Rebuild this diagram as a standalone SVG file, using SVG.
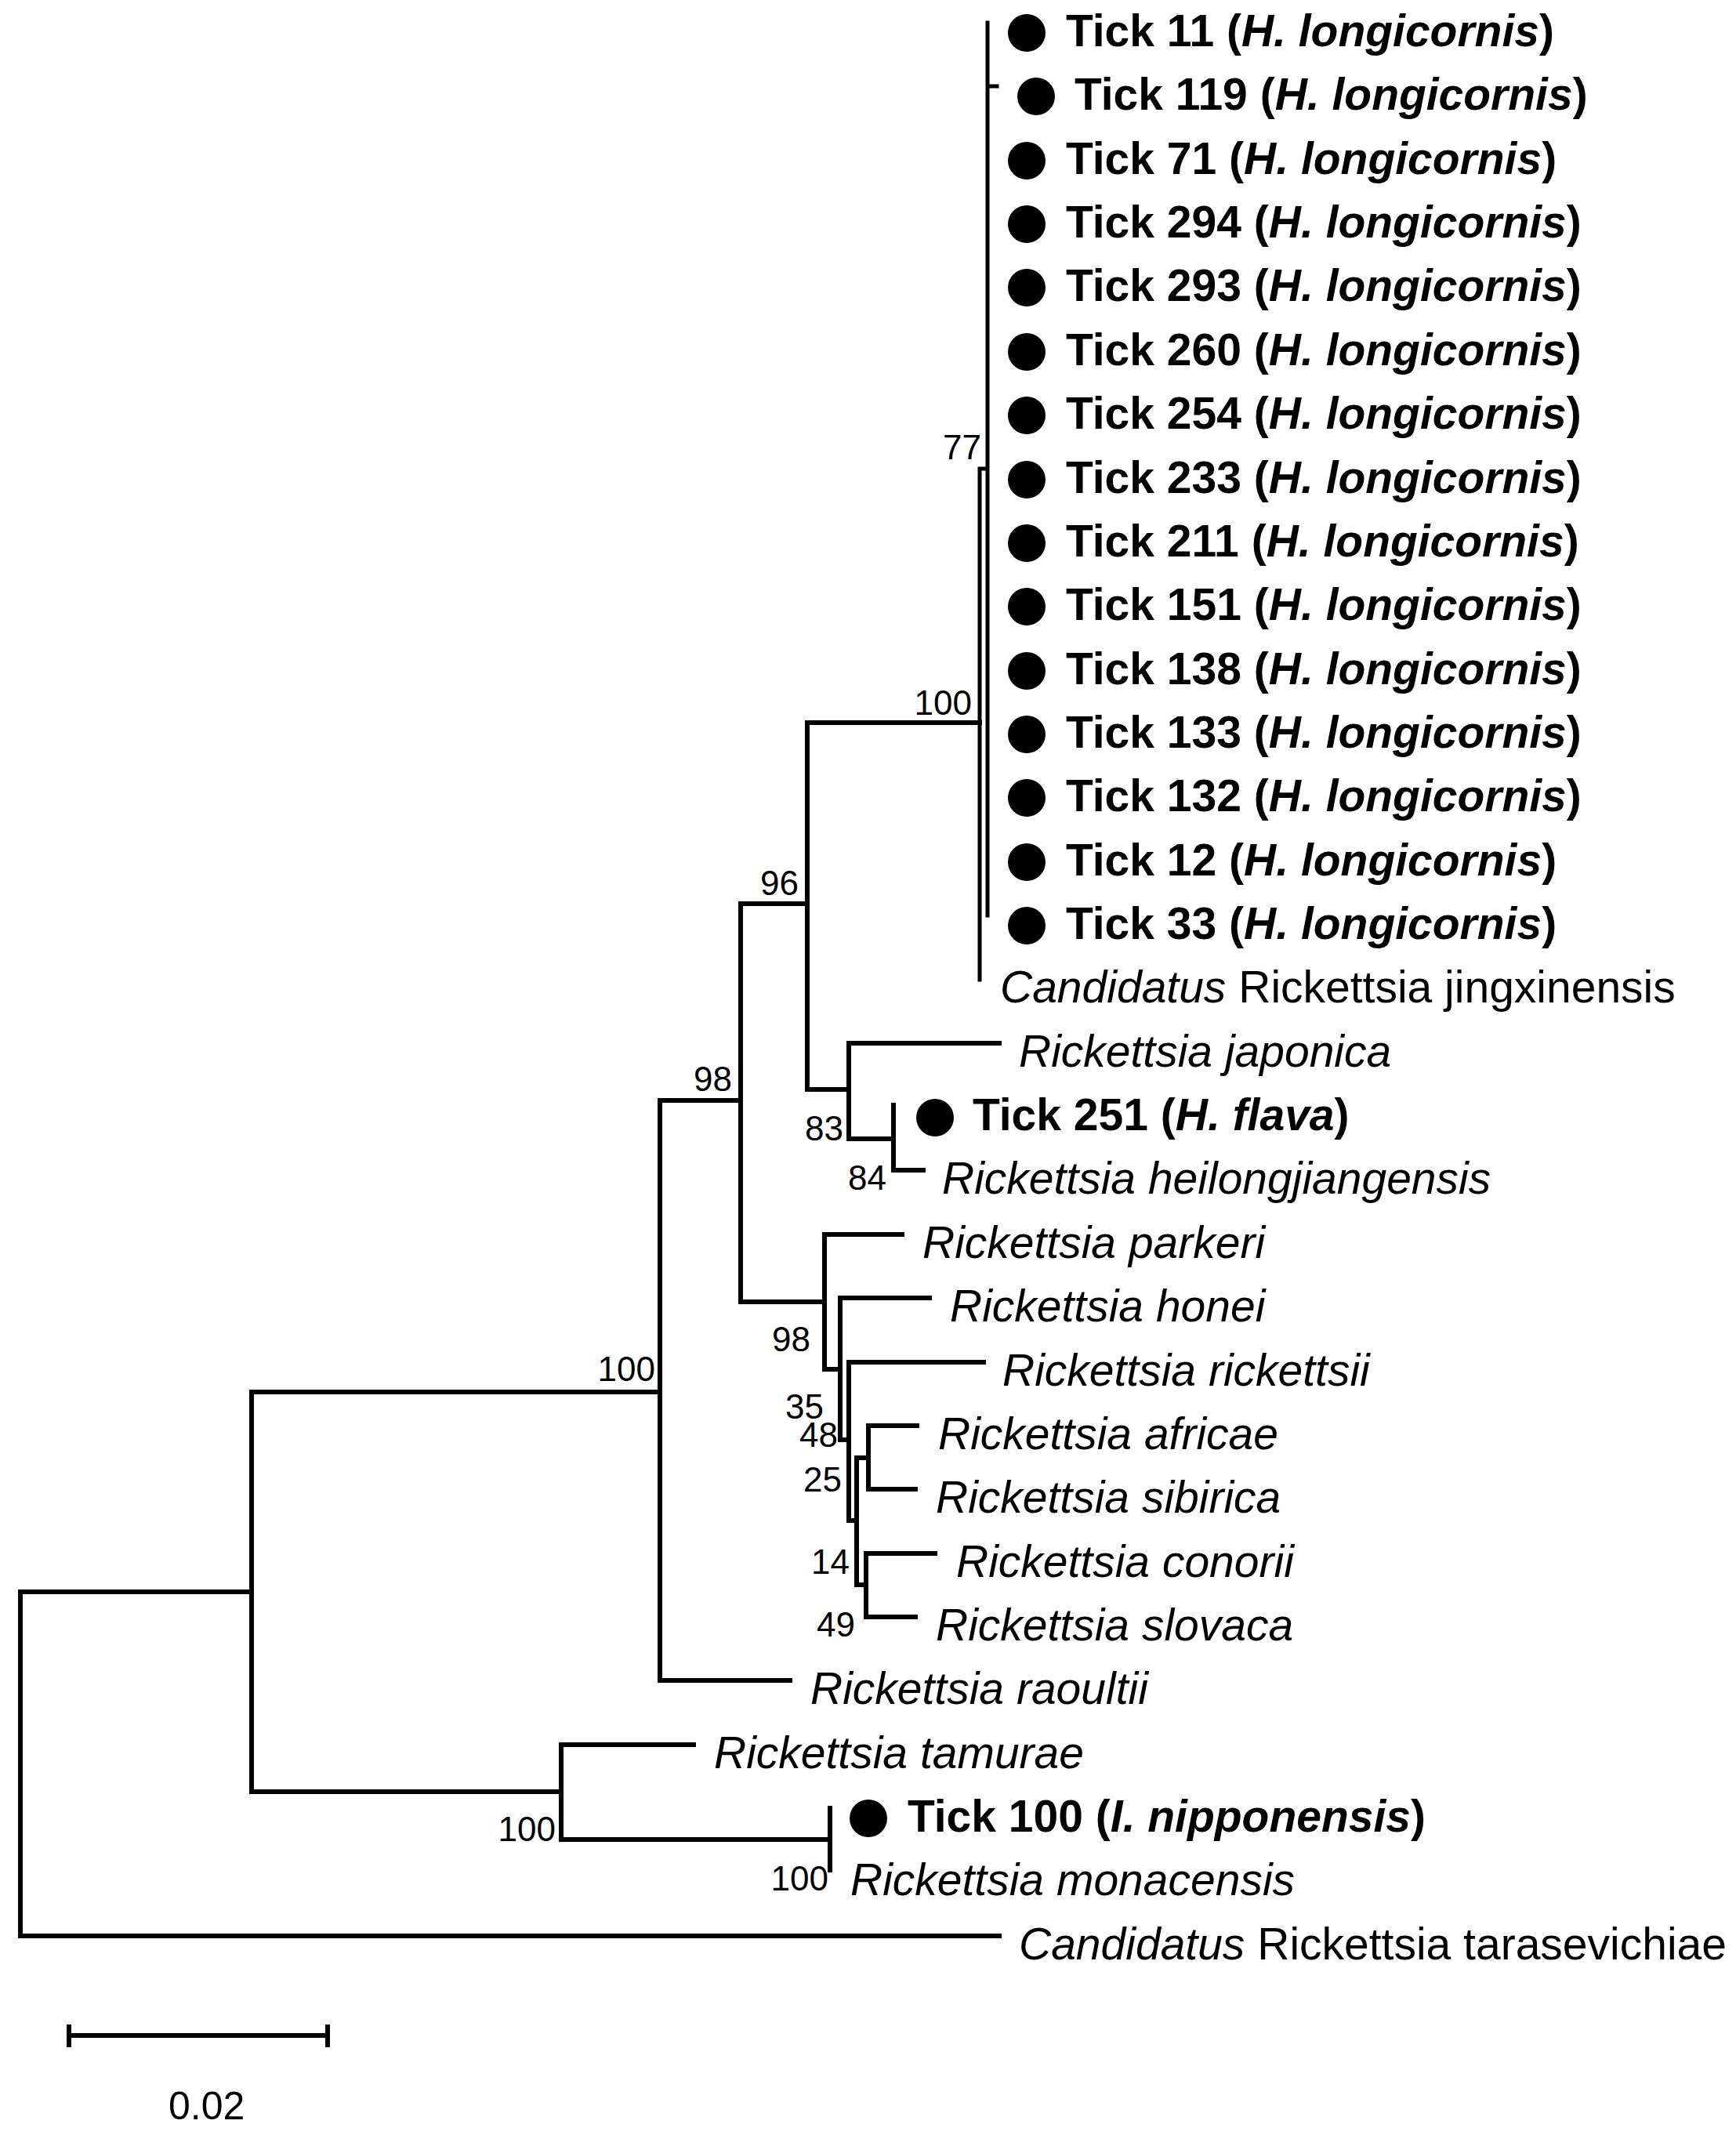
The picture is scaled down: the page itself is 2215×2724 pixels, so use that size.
<svg xmlns="http://www.w3.org/2000/svg" width="2215" height="2724" viewBox="0 0 2215 2724">
<style>
text{font-family:"Liberation Sans",Arial,sans-serif;fill:#000}
.tk{font-size:57px;font-weight:bold}
.sp{font-size:57px;font-style:italic}
.rg{font-size:57px}
.bs{font-size:44px}
.it{font-style:italic}
.edge{fill:none;stroke:#000;stroke-width:6;stroke-linecap:square;stroke-linejoin:miter}
.thin{stroke-width:5}
circle{fill:#000}
</style>
<rect width="2215" height="2724" fill="#fff"/>
<g id="edges">
<path class="edge thin" d="M1260,29 V1168 M1260,110 H1272 M1250,598 H1260 M1250,598 V1250"/>
<path class="edge" d="M1030,922 H1250 M1030,922 V1390 M945,1153 H1030 M1030,1390 H1083 M1083,1331 V1453 M1083,1331 H1275 M1083,1453 H1140 M1140,1410 V1493 M1140,1493 H1178"/>
<path class="edge" d="M945,1153 V1661 M842,1404 H945 M945,1661 H1052 M1052,1575 V1747 M1052,1575 H1151 M1052,1747 H1072 M1072,1656 V1837 M1072,1656 H1186 M1072,1837 H1083 M1083,1738 V1940 M1083,1738 H1255 M1083,1940 H1093 M1093,1860 V2022 M1093,1860 H1108 M1108,1819 V1900 M1108,1819 H1170 M1108,1900 H1168 M1093,2022 H1105 M1105,1982 V2063 M1105,1982 H1193 M1105,2063 H1168"/>
<path class="edge" d="M842,1404 V2144 M842,2144 H1008 M321,1776 H842 M321,1776 V2286 M321,2286 H716 M716,2226 V2347 M716,2226 H885 M716,2347 H1059 M1059,2307 V2386 M26,2031 H321 M26,2031 V2470 M26,2470 H1275"/>
</g>
<g id="bootstrap">
<text class="bs" x="1252" y="586" text-anchor="end">77</text>
<text class="bs" x="1240" y="912" text-anchor="end">100</text>
<text class="bs" x="1019" y="1142" text-anchor="end">96</text>
<text class="bs" x="934" y="1392" text-anchor="end">98</text>
<text class="bs" x="1076" y="1455" text-anchor="end">83</text>
<text class="bs" x="1131" y="1518" text-anchor="end">84</text>
<text class="bs" x="1034" y="1724" text-anchor="end">98</text>
<text class="bs" x="1051" y="1810" text-anchor="end">35</text>
<text class="bs" x="1069" y="1846" text-anchor="end">48</text>
<text class="bs" x="1074" y="1903" text-anchor="end">25</text>
<text class="bs" x="1084" y="2008" text-anchor="end">14</text>
<text class="bs" x="1091" y="2088" text-anchor="end">49</text>
<text class="bs" x="836" y="1762" text-anchor="end">100</text>
<text class="bs" x="709" y="2349" text-anchor="end">100</text>
<text class="bs" x="1057" y="2412" text-anchor="end">100</text>
</g>
<g id="leaf-tick11"><circle cx="1310" cy="42" r="24"/><text class="tk" x="1360" y="59">Tick 11 (<tspan class="it">H. longicornis</tspan>)</text></g>
<g id="leaf-tick119"><circle cx="1322" cy="123" r="24"/><text class="tk" x="1371" y="140">Tick 119 (<tspan class="it">H. longicornis</tspan>)</text></g>
<g id="leaf-tick71"><circle cx="1310" cy="205" r="24"/><text class="tk" x="1360" y="222">Tick 71 (<tspan class="it">H. longicornis</tspan>)</text></g>
<g id="leaf-tick294"><circle cx="1310" cy="286" r="24"/><text class="tk" x="1360" y="303">Tick 294 (<tspan class="it">H. longicornis</tspan>)</text></g>
<g id="leaf-tick293"><circle cx="1310" cy="367" r="24"/><text class="tk" x="1360" y="384">Tick 293 (<tspan class="it">H. longicornis</tspan>)</text></g>
<g id="leaf-tick260"><circle cx="1310" cy="449" r="24"/><text class="tk" x="1360" y="466">Tick 260 (<tspan class="it">H. longicornis</tspan>)</text></g>
<g id="leaf-tick254"><circle cx="1310" cy="530" r="24"/><text class="tk" x="1360" y="547">Tick 254 (<tspan class="it">H. longicornis</tspan>)</text></g>
<g id="leaf-tick233"><circle cx="1310" cy="612" r="24"/><text class="tk" x="1360" y="629">Tick 233 (<tspan class="it">H. longicornis</tspan>)</text></g>
<g id="leaf-tick211"><circle cx="1310" cy="693" r="24"/><text class="tk" x="1360" y="710">Tick 211 (<tspan class="it">H. longicornis</tspan>)</text></g>
<g id="leaf-tick151"><circle cx="1310" cy="774" r="24"/><text class="tk" x="1360" y="791">Tick 151 (<tspan class="it">H. longicornis</tspan>)</text></g>
<g id="leaf-tick138"><circle cx="1310" cy="856" r="24"/><text class="tk" x="1360" y="873">Tick 138 (<tspan class="it">H. longicornis</tspan>)</text></g>
<g id="leaf-tick133"><circle cx="1310" cy="937" r="24"/><text class="tk" x="1360" y="954">Tick 133 (<tspan class="it">H. longicornis</tspan>)</text></g>
<g id="leaf-tick132"><circle cx="1310" cy="1018" r="24"/><text class="tk" x="1360" y="1035">Tick 132 (<tspan class="it">H. longicornis</tspan>)</text></g>
<g id="leaf-tick12"><circle cx="1310" cy="1100" r="24"/><text class="tk" x="1360" y="1117">Tick 12 (<tspan class="it">H. longicornis</tspan>)</text></g>
<g id="leaf-tick33"><circle cx="1310" cy="1181" r="24"/><text class="tk" x="1360" y="1198">Tick 33 (<tspan class="it">H. longicornis</tspan>)</text></g>
<g id="leaf-jingxinensis"><text class="rg" x="1276" y="1279"><tspan class="it">Candidatus</tspan> Rickettsia jingxinensis</text></g>
<g id="leaf-japonica"><text class="sp" x="1300" y="1361">Rickettsia japonica</text></g>
<g id="leaf-tick251"><circle cx="1193" cy="1426" r="24"/><text class="tk" x="1241" y="1442">Tick 251 (<tspan class="it">H. flava</tspan>)</text></g>
<g id="leaf-heilongjiangensis"><text class="sp" x="1202" y="1523">Rickettsia heilongjiangensis</text></g>
<g id="leaf-parkeri"><text class="sp" x="1177" y="1605">Rickettsia parkeri</text></g>
<g id="leaf-honei"><text class="sp" x="1212" y="1686">Rickettsia honei</text></g>
<g id="leaf-rickettsii"><text class="sp" x="1279" y="1768">Rickettsia rickettsii</text></g>
<g id="leaf-africae"><text class="sp" x="1197" y="1849">Rickettsia africae</text></g>
<g id="leaf-sibirica"><text class="sp" x="1194" y="1930">Rickettsia sibirica</text></g>
<g id="leaf-conorii"><text class="sp" x="1220" y="2012">Rickettsia conorii</text></g>
<g id="leaf-slovaca"><text class="sp" x="1194" y="2093">Rickettsia slovaca</text></g>
<g id="leaf-raoultii"><text class="sp" x="1034" y="2174">Rickettsia raoultii</text></g>
<g id="leaf-tamurae"><text class="sp" x="911" y="2256">Rickettsia tamurae</text></g>
<g id="leaf-tick100"><circle cx="1108" cy="2320" r="24"/><text class="tk" x="1158" y="2337">Tick 100 (<tspan class="it">I. nipponensis</tspan>)</text></g>
<g id="leaf-monacensis"><text class="sp" x="1085" y="2418">Rickettsia monacensis</text></g>
<g id="leaf-tarasevichiae"><text class="rg" x="1300" y="2500"><tspan class="it">Candidatus</tspan> Rickettsia tarasevichiae</text></g>
<g id="scale-bar">
<path class="edge" d="M88,2597 H418 M88,2586 V2609 M418,2586 V2609"/>
<text x="215" y="2704" style="font-size:50px">0.02</text>
</g>
</svg>
